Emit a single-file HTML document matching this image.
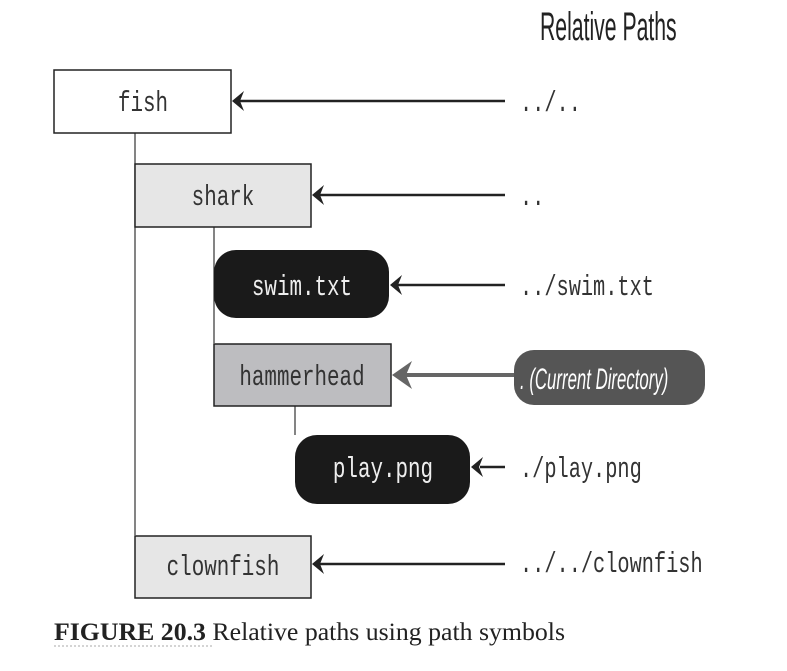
<!DOCTYPE html>
<html><head><style>
body{margin:0;background:#fff;width:787px;height:666px;overflow:hidden}
</style></head><body>
<svg width="787" height="666" viewBox="0 0 787 666" xmlns="http://www.w3.org/2000/svg">
<text x="0" y="0" font-family="Liberation Sans,sans-serif" font-size="40" fill="#222" transform="translate(540,40) scale(0.53,1)">Relative Paths</text>
<g stroke="#333" stroke-width="1.2">
<line x1="135" y1="133" x2="135" y2="535"/>
<line x1="214" y1="227" x2="214" y2="343"/>
<line x1="295" y1="406" x2="295" y2="435"/>
</g>
<rect x="54" y="70" width="177" height="63" fill="#fff" stroke="#222" stroke-width="1.5"/>
<rect x="135" y="164" width="176" height="63" fill="#e6e6e6" stroke="#222" stroke-width="1.5"/>
<rect x="214" y="250" width="175" height="68" rx="22" fill="#1a1a1a"/>
<rect x="214" y="344" width="177" height="62" fill="#bdbdc0" stroke="#222" stroke-width="1.5"/>
<rect x="295" y="435" width="175" height="69" rx="22" fill="#1a1a1a"/>
<rect x="135" y="536" width="176" height="62" fill="#e6e6e6" stroke="#222" stroke-width="1.5"/>
<rect x="514" y="350" width="191" height="55" rx="20" fill="#555"/>
<g font-family="Liberation Mono,monospace" font-size="29" text-anchor="middle">
<text x="143" y="111" fill="#333" transform="translate(143,0) scale(0.72,1) translate(-143,0)">fish</text>
<text x="223" y="205" fill="#333" transform="translate(223,0) scale(0.72,1) translate(-223,0)">shark</text>
<text x="302" y="295" fill="#eee" transform="translate(302,0) scale(0.72,1) translate(-302,0)">swim.txt</text>
<text x="302" y="385" fill="#333" transform="translate(302,0) scale(0.72,1) translate(-302,0)">hammerhead</text>
<text x="383" y="477" fill="#eee" transform="translate(383,0) scale(0.72,1) translate(-383,0)">play.png</text>
<text x="223" y="575" fill="#333" transform="translate(223,0) scale(0.72,1) translate(-223,0)">clownfish</text>
</g>
<g font-family="Liberation Mono,monospace" font-size="29" fill="#333" transform="translate(520,0) scale(0.7,1) translate(-520,0)">
<text x="520" y="111">../..</text>
<text x="520" y="205">..</text>
<text x="520" y="295">../swim.txt</text>
<text x="520" y="477">./play.png</text>
<text x="520" y="572">../../clownfish</text>
</g>
<text x="0" y="0" font-family="Liberation Sans,sans-serif" font-style="italic" font-size="30" fill="#fff" transform="translate(520,389) scale(0.56,1)">. (Current Directory)</text>
<g stroke="#222" stroke-width="2.5">
<line x1="505" y1="101" x2="240" y2="101"/>
<line x1="505" y1="195" x2="320" y2="195"/>
<line x1="505" y1="285" x2="398" y2="285"/>
<line x1="505" y1="467" x2="480" y2="467"/>
<line x1="505" y1="564" x2="320" y2="564"/>
</g>
<g fill="#222">
<path d="M232,101 L244,91 L240,101 L244,111 Z"/>
<path d="M312,195 L324,185 L320,195 L324,205 Z"/>
<path d="M390,285 L402,275 L398,285 L402,295 Z"/>
<path d="M471,467 L483,457 L479,467 L483,477 Z"/>
<path d="M312,564 L324,554 L320,564 L324,574 Z"/>
</g>
<line x1="514" y1="375" x2="405" y2="375" stroke="#666" stroke-width="4"/>
<path d="M392,375 L412,361 L406,375 L412,389 Z" fill="#666"/>
<text x="54" y="640" font-family="Liberation Serif,serif" font-size="25" fill="#222" textLength="511" lengthAdjust="spacingAndGlyphs"><tspan font-weight="bold">FIGURE 20.3</tspan> Relative paths using path symbols</text>
<line x1="54" y1="646" x2="212" y2="646" stroke="#aaa" stroke-dasharray="2,2"/>
</svg>
</body></html>
